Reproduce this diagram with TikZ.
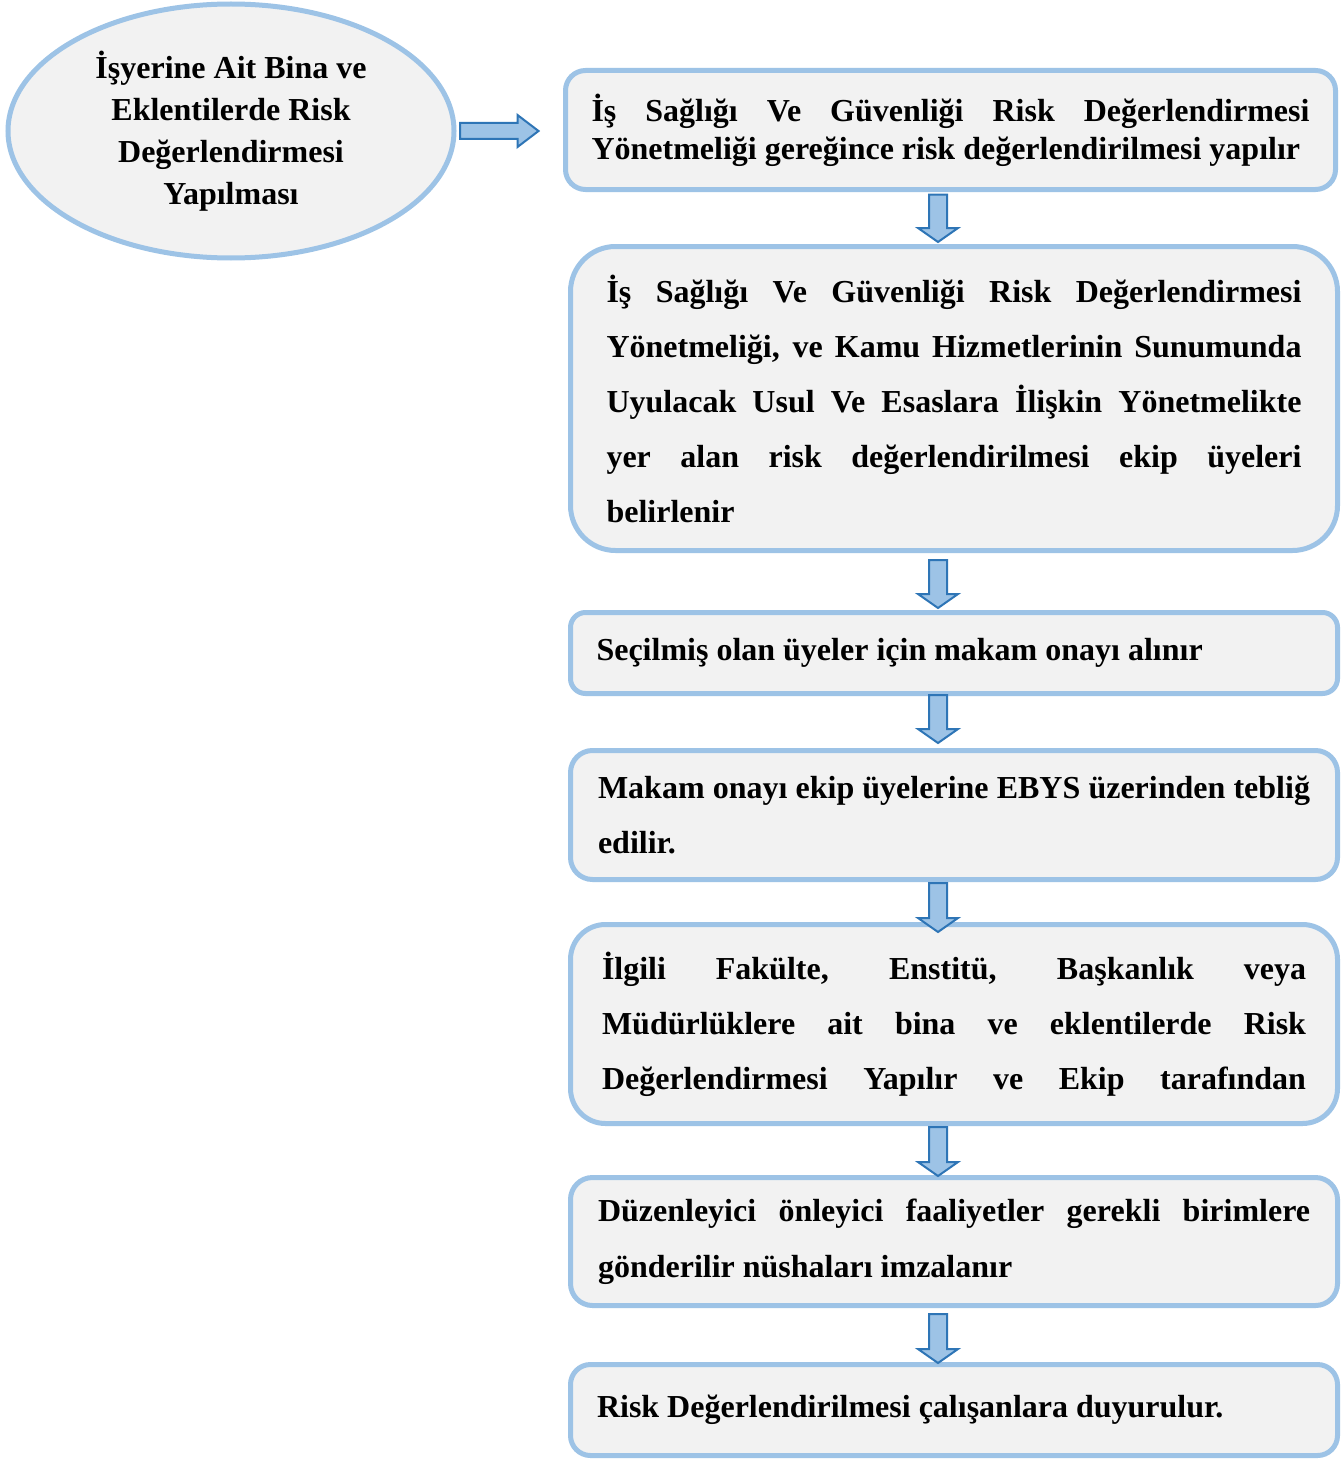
\documentclass[tikz,border=0pt]{standalone}
\usepackage{fontspec}
\setmainfont{Liberation Serif}
\usepackage{tikz}
\usetikzlibrary{calc,shapes.geometric}
\definecolor{boxline}{HTML}{9DC3E6}
\definecolor{boxfill}{HTML}{F2F2F2}
\definecolor{arrowfill}{HTML}{9DC3E6}
\definecolor{arrowline}{HTML}{2E75B6}
\hyphenpenalty=10000
\exhyphenpenalty=10000
\tikzset{
  stepbox/.style={draw=boxline,fill=boxfill,line width=5pt,rectangle,anchor=north west,
    outer sep=0pt,inner ysep=0pt,align=justify,font=\bfseries\fontsize{32}{36}\selectfont},
  blockarrow/.style={draw=arrowline,fill=arrowfill,line width=2pt,line join=miter}
}
\newcommand{\drawDownArrow}[4]{
\draw [blockarrow] ($(#1.south -| col)+(-9,#3)$) -- ($(#1.south -| col)+(9,#3)$)
  -- ($(#2.north -| col)+(9,#4-14)$) -- ($(#2.north -| col)+(20,#4-14)$)
  -- ($(#2.north -| col)+(0,#4)$) -- ($(#2.north -| col)+(-20,#4-14)$)
  -- ($(#2.north -| col)+(-9,#4-14)$) -- cycle;
}

\begin{document}
\begin{tikzpicture}[x=1pt,y=-1pt]
\fill [white] (0,0) rectangle (1343,1461);
\useasboundingbox (0,0) rectangle (1343,1461);
\coordinate (col) at (938,0);
\node (ell) at (231,131) [ellipse,draw=boxline,fill=boxfill,line width=5pt,outer sep=0pt,
  minimum width=446pt,minimum height=254pt,inner sep=0pt,align=center,
  font=\bfseries\fontsize{32}{42}\selectfont] {İşyerine Ait Bina ve\\Eklentilerde Risk\\Değerlendirmesi\\Yapılması};
\node (b1) at (565.5,70.5) [stepbox,rounded corners=20pt,minimum width=770pt,minimum height=119pt,
  text width=718pt,inner xsep=26pt,font=\bfseries\fontsize{32}{38}\selectfont]
  {İş Sağlığı Ve Güvenliği Risk Değerlendirmesi\linebreak Yönetmeliği gereğince risk değerlendirilmesi yapılır};
\node (b2) at (570.5,246.5) [stepbox,rounded corners=45pt,minimum width=767pt,minimum height=304pt,
  text width=695pt,inner xsep=36pt,font=\bfseries\fontsize{32}{55}\selectfont]
  {İş Sağlığı Ve Güvenliği Risk Değerlendirmesi\linebreak Yönetmeliği, ve Kamu Hizmetlerinin Sunumunda\linebreak Uyulacak Usul Ve Esaslara İlişkin Yönetmelikte\linebreak yer alan risk değerlendirilmesi ekip üyeleri\linebreak belirlenir};
\node (b3) at (570.5,612.5) [stepbox,rounded corners=15pt,minimum width=767pt,minimum height=81pt,
  text width=715pt,inner xsep=26pt]
  {Seçilmiş olan üyeler için makam onayı alınır};
\node (b4) at (570.5,750.5) [stepbox,rounded corners=22pt,minimum width=767pt,minimum height=129pt,
  text width=712pt,inner xsep=27.5pt,font=\bfseries\fontsize{32}{55}\selectfont]
  {Makam onayı ekip üyelerine EBYS üzerinden tebliğ\linebreak edilir.};
\node (b5) at (570.5,924.5) [stepbox,rounded corners=35pt,minimum width=767pt,minimum height=199pt,
  text width=704pt,inner xsep=31.5pt,font=\bfseries\fontsize{32}{55}\selectfont]
  {İlgili Fakülte, Enstitü, Başkanlık veya\linebreak Müdürlüklere ait bina ve eklentilerde Risk\linebreak Değerlendirmesi Yapılır ve Ekip tarafından\hskip 0pt plus -1fil\null};
\node (b6) at (570.5,1177.5) [stepbox,rounded corners=22pt,minimum width=767pt,minimum height=128pt,
  text width=712pt,inner xsep=27.5pt,font=\bfseries\fontsize{32}{56}\selectfont]
  {Düzenleyici önleyici faaliyetler gerekli birimlere\linebreak gönderilir nüshaları imzalanır};
\node (b7) at (570.5,1364.5) [stepbox,rounded corners=20pt,minimum width=767pt,minimum height=91pt,
  text width=714pt,inner xsep=26.5pt]
  {Risk Değerlendirilmesi çalışanlara duyurulur.};
\draw [blockarrow] ($(ell.east)+(6,-8)$) -- ($(b1.west)+(-48,-7)$) -- ($(b1.west)+(-48,-15)$)
  -- ($(b1.west)+(-27,1)$) -- ($(b1.west)+(-48,17)$) -- ($(b1.west)+(-48,9)$) -- ($(ell.east)+(6,8)$) -- cycle;
\drawDownArrow{b1}{b2}{5}{-4.5}
\drawDownArrow{b2}{b3}{9.5}{-4.5}
\drawDownArrow{b3}{b4}{1.5}{-7.5}
\drawDownArrow{b4}{b5}{3.5}{7.5}
\drawDownArrow{b5}{b6}{3.5}{-1.5}
\drawDownArrow{b6}{b7}{8.5}{-1.5}
\end{tikzpicture}
\end{document}
